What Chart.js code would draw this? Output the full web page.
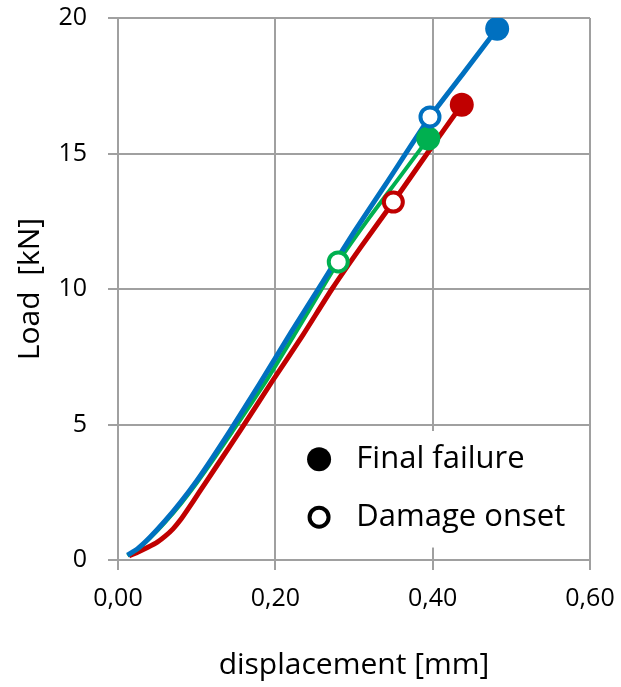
<!DOCTYPE html>
<html>
<head>
<meta charset="utf-8">
<script src="https://cdn.jsdelivr.net/npm/chart.js@4.4.0/dist/chart.umd.min.js"></script>
<style>
  html, body { margin: 0; padding: 0; background: #fff; }
  #wrap { width: 621px; height: 687px; }
</style>
</head>
<body>
<div id="wrap"><canvas id="grafico"></canvas></div>
<script>
// load-displacement curves (mm, kN)
const redX   = [0.014, 0.025, 0.038, 0.050, 0.060, 0.070, 0.080, 0.090, 0.102, 0.125, 0.157, 0.195, 0.235, 0.272, 0.310, 0.350, 0.393, 0.437];
const redY   = [0.15, 0.29, 0.47, 0.66, 0.88, 1.15, 1.50, 1.92, 2.45, 3.45, 4.85, 6.55, 8.30, 10.0, 11.60, 13.21, 15.0, 16.8];
const greenX = [0.012, 0.025, 0.040, 0.060, 0.080, 0.100, 0.122, 0.145, 0.189, 0.225, 0.259, 0.280, 0.320, 0.360, 0.3944];
const greenY = [0.16, 0.40, 0.79, 1.40, 2.08, 2.84, 3.74, 4.72, 6.64, 8.35, 10.0, 11.0, 12.65, 14.2, 15.55];
const blueX  = [0.012, 0.025, 0.040, 0.060, 0.080, 0.100, 0.120, 0.142, 0.180, 0.220, 0.260, 0.300, 0.340, 0.3966, 0.440, 0.482];
const blueY  = [0.18, 0.42, 0.82, 1.45, 2.15, 2.92, 3.77, 4.75, 6.50, 8.40, 10.25, 12.10, 13.85, 16.35, 18.0, 19.60];

// markers, order: red, green, blue
const finalX = [0.437, 0.3944, 0.482];
const finalY = [16.8, 15.55, 19.6];
const onsetX = [0.350, 0.280, 0.3966];
const onsetY = [13.21, 11.0, 16.35];

const colores = ['#C00000', '#00B050', '#0070C0'];
const grosor = [5, 4, 5];
const legendLabels = ['Final failure', 'Damage onset'];

const xTicks = [0, 0.2, 0.4, 0.6];
const yTicks = [0, 5, 10, 15, 20];

const GRIS = '#a0a0a0';
const FUENTE = "'Open Sans', 'Noto Sans', sans-serif";

function pares(xs, ys) {
  return xs.map((x, i) => ({ x: x, y: ys[i] }));
}

const curvas = [pares(redX, redY), pares(greenX, greenY), pares(blueX, blueY)];

let datasets = [];
curvas.forEach((c, i) => {
  datasets.push({
    data: c,
    showLine: true,
    borderColor: colores[i],
    borderWidth: grosor[i],
    pointRadius: 0,
    tension: 0.2,
    order: 6 - i
  });
});
colores.forEach((col, i) => {
  datasets.push({
    data: [{ x: onsetX[i], y: onsetY[i] }],
    pointRadius: 9.5,
    pointBorderWidth: 4,
    pointBackgroundColor: '#fff',
    pointBorderColor: col,
    order: 3 - i
  });
  datasets.push({
    data: [{ x: finalX[i], y: finalY[i] }],
    pointRadius: 12,
    pointBorderWidth: 0,
    pointBackgroundColor: col,
    pointBorderColor: col,
    order: 3 - i
  });
});

// legend inside plot, bottom right
const leyenda = {
  id: 'leyenda',
  afterDraw(chart) {
    const ctx = chart.ctx;
    const a = chart.chartArea;
    const w = a.right - a.left, h = a.bottom - a.top;
    const bx = a.left + w * 0.365, by = a.top + h * 0.762;
    ctx.save();
    ctx.fillStyle = '#fff';
    ctx.fillRect(bx, by, w * 0.61, h * 0.215);
    const cx = a.left + w * 0.426;
    const ys = [a.top + h * 0.814, a.top + h * 0.921];
    // filled
    ctx.beginPath();
    ctx.arc(cx, ys[0], 12, 0, Math.PI * 2);
    ctx.fillStyle = '#000';
    ctx.fill();
    // open
    ctx.beginPath();
    ctx.arc(cx, ys[1], 9.5, 0, Math.PI * 2);
    ctx.fillStyle = '#fff';
    ctx.fill();
    ctx.lineWidth = 4;
    ctx.strokeStyle = '#000';
    ctx.stroke();
    ctx.fillStyle = '#000';
    ctx.font = '31px ' + FUENTE;
    ctx.textBaseline = 'middle';
    ctx.textAlign = 'left';
    legendLabels.forEach((t, i) => ctx.fillText(t, a.left + w * 0.505, ys[i]));
    ctx.restore();
  }
};

const GRAFICO = document.getElementById('grafico');

let grafica = new Chart(GRAFICO, {
  type: 'scatter',
  data: { datasets: datasets },
  plugins: [leyenda],
  options: {
    responsive: true,
    maintainAspectRatio: false,
    animation: false,
    events: [],
    layout: { padding: { left: 0, right: 31, top: 18, bottom: 0 } },
    plugins: {
      legend: { display: false },
      tooltip: { enabled: false }
    },
    scales: {
      x: {
        type: 'linear',
        min: 0,
        max: 0.6,
        afterBuildTicks: (s) => { s.ticks = xTicks.map(v => ({ value: v })); },
        afterFit: (s) => { s.height = 127; s.paddingLeft = 0; s.paddingRight = 0; },
        grid: { color: GRIS, lineWidth: 2, tickLength: 10 },
        border: { color: GRIS, width: 2 },
        ticks: {
          color: '#000',
          padding: 14,
          font: { family: FUENTE, size: 25 },
          callback: (v) => v.toFixed(2).replace('.', ',')
        },
        title: {
          display: true,
          text: 'displacement [mm]',
          color: '#000',
          font: { family: FUENTE, size: 30 },
          padding: { top: 4, bottom: 4 }
        }
      },
      y: {
        type: 'linear',
        min: 0,
        max: 20,
        afterBuildTicks: (s) => { s.ticks = yTicks.map(v => ({ value: v })); },
        afterFit: (s) => { s.width = 118; s.paddingTop = 0; s.paddingBottom = 0; },
        grid: { color: GRIS, lineWidth: 2, tickLength: 10 },
        border: { color: GRIS, width: 2 },
        ticks: {
          color: '#000',
          padding: 21,
          font: { family: FUENTE, size: 25 }
        },
        title: {
          display: true,
          text: 'Load  [kN]',
          color: '#000',
          font: { family: FUENTE, size: 30 },
          padding: { top: 12, bottom: 0 }
        }
      }
    }
  }
});
</script>
</body>
</html>
